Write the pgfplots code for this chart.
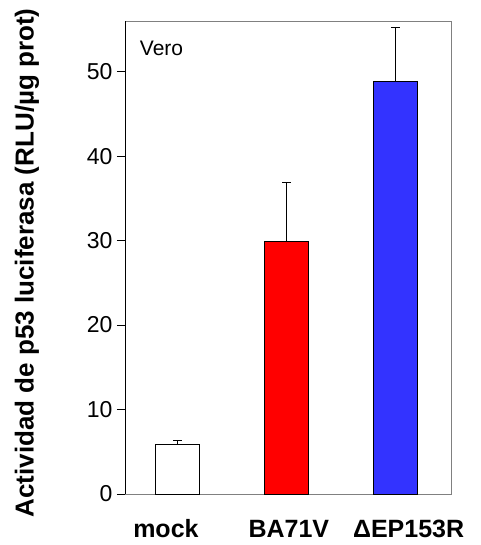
\documentclass[border=0pt]{standalone}
\usepackage{pgfplots}
\pgfplotsset{compat=1.18}
\usepackage{fontspec}
\setmainfont{Liberation Sans}
\definecolor{framegray}{RGB}{128,128,128}
\definecolor{barred}{RGB}{255,0,0}
\definecolor{barblue}{RGB}{51,51,255}
\begin{document}
\begin{tikzpicture}
\begin{axis}[
  name=ax,
  scale only axis,
  width=326pt, height=473pt,
  xmin=-0.486, xmax=2.51,
  ymin=0, ymax=56,
  axis line style={framegray, line width=0.8pt},
  xtick=\empty,
  ytick={0,10,20,30,40,50},
  ytick pos=left,
  tick align=outside,
  major tick length=8pt,
  tick style={black, line width=0.6pt},
  yticklabel style={font=\fontsize{23}{25}\selectfont, xshift=-1pt},
  /pgf/number format/assume math mode=true,
  clip=false,
]
\addplot[ybar, bar width=44pt, draw=black, line width=0.8pt, fill=white,
  error bars/.cd, y dir=plus, y explicit,
  error bar style={black, line width=0.8pt},
  error mark options={rotate=90, mark size=4.5pt, black, line width=0.8pt}]
  coordinates {(0,5.9) +- (0,0.45)};
\addplot[ybar, bar width=44pt, draw=black, line width=0.8pt, fill=barred,
  error bars/.cd, y dir=plus, y explicit,
  error bar style={black, line width=0.8pt},
  error mark options={rotate=90, mark size=4.5pt, black, line width=0.8pt}]
  coordinates {(1,29.9) +- (0,7.0)};
\addplot[ybar, bar width=44pt, draw=black, line width=0.8pt, fill=barblue,
  error bars/.cd, y dir=plus, y explicit,
  error bar style={black, line width=0.8pt},
  error mark options={rotate=90, mark size=4.5pt, black, line width=0.8pt}]
  coordinates {(2,48.9) +- (0,6.3)};
\draw[black, line width=0.8pt] (rel axis cs:0,0) -- (rel axis cs:0,1);
\node[anchor=base west, font=\fontsize{21}{23}\selectfont] at (rel axis cs:0.035,0.928) {Vero};
\node[anchor=base, font=\bfseries\fontsize{25}{27}\selectfont] at (axis cs:-0.11,0) [yshift=-44pt] {mock};
\node[anchor=base, font=\bfseries\fontsize{25}{27}\selectfont] at (axis cs:1.02,0) [yshift=-44pt] {BA71V};
\node[anchor=base, font=\bfseries\fontsize{25}{27}\selectfont] at (axis cs:2.12,0) [yshift=-44pt] {ΔEP153R};
\end{axis}
\node[rotate=90, font=\bfseries\fontsize{26}{28}\selectfont] at ([xshift=-98pt, yshift=-5.5pt]ax.west) {Actividad de p53 luciferasa (RLU/µg prot)};
\pgfresetboundingbox
\path ([shift={(-125pt,-51pt)}]ax.south west) rectangle ([shift={(29pt,21pt)}]ax.north east);
\end{tikzpicture}
\end{document}
